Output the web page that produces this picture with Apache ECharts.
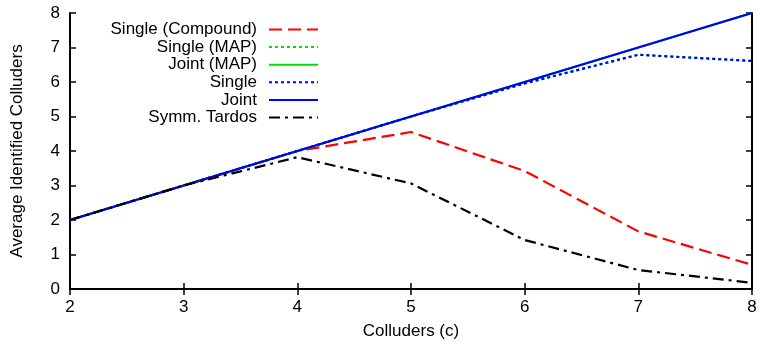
<!DOCTYPE html>
<html>
<head>
<meta charset="utf-8">
<script src="https://cdn.jsdelivr.net/npm/echarts@6/dist/echarts.min.js"></script>
<style>
  html, body { margin: 0; padding: 0; background: #fff; }
  #chart { width: 761px; height: 345px; }
</style>
</head>
<body>
<div id="chart"></div>
<script>
// colluders on the x axis
const colluders = [2, 3, 4, 5, 6, 7, 8];

// average identified colluders per method
const singleCompound = [2, 3, 4, 4.55, 3.42, 1.67, 0.7];
const singleMap = [2, 3, 4, 5, 5.96, 6.79, 6.61];
const jointMap = [2, 3, 4, 5, 6, 7, 8];
const single = [2, 3, 4, 5, 5.96, 6.79, 6.61];
const joint = [2, 3, 4, 5, 6, 7, 8];
const symmTardos = [2, 3, 3.82, 3.06, 1.42, 0.55, 0.18];

const font = "Liberation Sans, Arial, sans-serif";
const fs = 17;

const pairs = (ys) => colluders.map((x, i) => [x, ys[i]]);

const mkLine = (name, ys, color, type) => ({
  name: name,
  type: "line",
  data: pairs(ys),
  symbol: "none",
  animation: false,
  lineStyle: { color: color, width: 2.2, type: type },
  itemStyle: { color: color },
});

const chart = echarts.init(document.getElementById("chart"), null, { renderer: "canvas" });

const tickAxis = {
  axisLine: { show: true, lineStyle: { color: "#000", width: 2 } },
  axisTick: { show: true, inside: true, length: 6, lineStyle: { color: "#000", width: 1.5 } },
  splitLine: { show: false },
};

chart.setOption({
  animation: false,
  grid: { left: 70, right: 9, top: 13, bottom: 56, containLabel: false },
  legend: {
    orient: "vertical",
    left: 107,
    top: 21,
    align: "right",
    itemWidth: 49,
    itemHeight: 17,
    itemGap: 0.6,
    padding: 0,
    selectedMode: false,
    itemStyle: { opacity: 0, borderWidth: 0 },
    textStyle: {
      fontFamily: font, fontSize: fs, color: "#000",
      width: 150, align: "right", lineHeight: 17, padding: [0, 7, 0, 0],
    },
    data: ["Single (Compound)", "Single (MAP)", "Joint (MAP)", "Single", "Joint", "Symm. Tardos"],
  },
  xAxis: [
    Object.assign({
      type: "value",
      min: 2,
      max: 8,
      interval: 1,
      name: "Colluders (c)",
      nameLocation: "middle",
      nameGap: 34,
      nameTextStyle: { fontFamily: font, fontSize: fs, color: "#000" },
      axisLabel: { fontFamily: font, fontSize: fs, color: "#000", margin: 10 },
    }, tickAxis),
    Object.assign({
      type: "value",
      position: "top",
      min: 2,
      max: 8,
      interval: 1,
      axisLabel: { show: false },
    }, tickAxis),
  ],
  yAxis: [
    Object.assign({
      type: "value",
      min: 0,
      max: 8,
      interval: 1,
      name: "Average Identified Colluders",
      nameLocation: "middle",
      nameGap: 44,
      nameTextStyle: { fontFamily: font, fontSize: fs, color: "#000" },
      axisLabel: { fontFamily: font, fontSize: fs, color: "#000", margin: 10 },
    }, tickAxis),
    Object.assign({
      type: "value",
      position: "right",
      min: 0,
      max: 8,
      interval: 1,
      axisLabel: { show: false },
    }, tickAxis),
  ],
  series: [
    mkLine("Single (Compound)", singleCompound, "#ff0000", [13, 6]),
    mkLine("Single (MAP)", singleMap, "#00e000", [3, 3]),
    mkLine("Joint (MAP)", jointMap, "#00e000", "solid"),
    mkLine("Single", single, "#0000ff", [3, 3]),
    mkLine("Joint", joint, "#0000ff", "solid"),
    mkLine("Symm. Tardos", symmTardos, "#000000", [11, 5, 3, 5]),
  ],
});
</script>
</body>
</html>
